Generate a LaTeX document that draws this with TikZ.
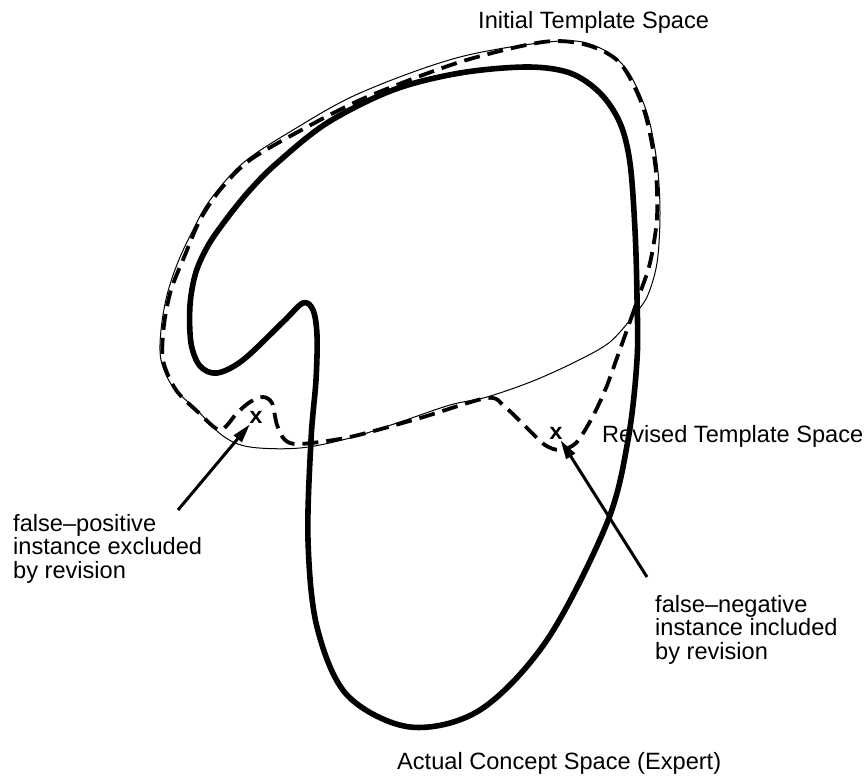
\documentclass[tikz,border=0pt]{standalone}
\usepackage{fontspec}
\setmainfont{Liberation Sans}
\setmonofont{Liberation Mono}
\usetikzlibrary{arrows.meta}
\begin{document}
\begin{tikzpicture}[x=1pt,y=-1pt,
    concept/.style={black, line width=5.6pt},
    template/.style={black, line width=1pt},
    revised/.style={black, line width=3.8pt, dash pattern=on 16pt off 8pt},
    pointer/.style={black, line width=3pt, -{Triangle[length=19pt,width=10pt]}},
    caption/.style={font=\fontsize{23.6}{23.5}\selectfont, inner sep=0pt, align=left},
    inst/.style={font=\ttfamily\bfseries\fontsize{23}{23}\selectfont, inner sep=1pt}]
				\useasboundingbox (0,0) rectangle (868,776);
				% initial template space
				\draw [template] plot [smooth, tension=0.55] coordinates {(634,315) (647,297) (657,263) (660,213) (657,163) (647,113) (627,70) (600,48) (560,41) (460,57) (360,93) (293,130) (243,163) (210,200) (193,230) (178,262) (167,295) (161,330) (161,360) (173,387) (197,410) (223,436) (250,447) (300,448) (350,438) (400,422) (450,405) (487,397) (533,381) (577,361) (610,342) (634,315)};
				% revised template space
				\draw [revised] plot [smooth, tension=0.5] coordinates {(633,313) (640,293) (650,263) (657,217) (655,163) (643,107) (620,63) (587,45) (543,42) (460,62) (367,97) (307,127) (250,160) (220,190) (200,220) (185,255) (171,290) (164,325) (163,360) (176,390) (198,412) (220,430) (237,413) (250,402) (263,397) (272,403) (277,425) (285,440) (300,444) (350,437) (420,418) (487,398) (505,407) (527,428) (545,445) (560,450) (576,443) (592,418) (606,388) (618,355) (633,313)};
				% actual concept space
				\draw [concept] plot [smooth cycle, tension=0.55] coordinates {(527,67) (570,73) (600,93) (620,123) (630,163) (635,230) (637,297) (637,360) (628,440) (607,523) (547,640) (480,710) (410,727) (347,695) (317,627) (308,540) (311,440) (316,380) (317,335) (313,310) (303,303) (283,322) (243,360) (217,373) (200,366) (191,343) (190,305) (196,272) (209,244) (228,217) (250,190) (277,163) (327,123) (393,90) (460,73)};
				% instances
				\node [inst] (fpos) at (256,417) {x};
				\node [inst] (fneg) at (556,433) {x};
				% captions
				\node [caption, anchor=base west] (initial) at (478,29) {Initial Template Space};
				\node [caption, anchor=base west] (revlabel) at (602,442) {Revised Template Space};
				\node [caption, anchor=base west] (actual) at (397,769) {Actual Concept Space (Expert)};
				\node [caption, anchor=base west] (fposlabel) at (13,578) {false--positive\\instance excluded\\by revision};
				\node [caption, anchor=base west] (fneglabel) at (655,659) {false--negative\\instance included\\by revision};
				% pointers
				\coordinate (fpostail) at (178,510);
				\coordinate (fnegtail) at (647,577);
				\draw [pointer] (fpostail) -- (fpos);
				\draw [pointer] (fnegtail) -- (fneg);
\end{tikzpicture}
\end{document}
